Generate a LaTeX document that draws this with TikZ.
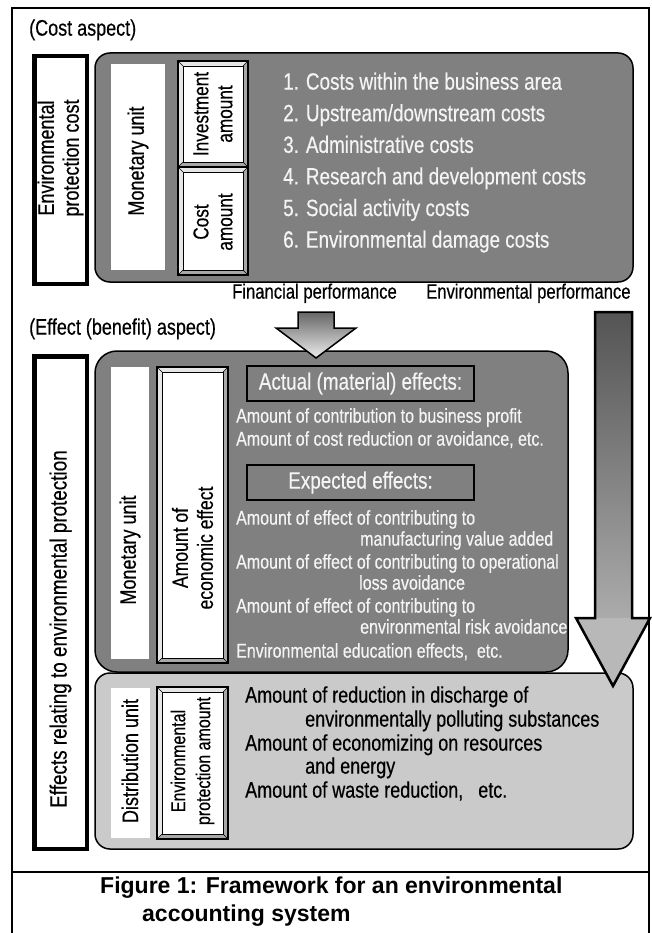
\documentclass[tikz,border=0pt]{standalone}
\usepackage{fontspec}
\setmainfont{Liberation Sans}[FakeStretch=0.8, FakeBold=0.4]
\newfontfamily\capfont{Liberation Sans}
\usetikzlibrary{calc}
\definecolor{darkbox}{HTML}{808080}
\definecolor{lightbox}{HTML}{CACACA}
\definecolor{paletext}{HTML}{F4F4F4}
\definecolor{bevlt}{HTML}{E6E6E6}
\definecolor{bevdk}{HTML}{A8A8A8}
\newcommand{\bevbox}[4]{%
  \fill[bevlt] (#1,#2) rectangle (#3,#4);
  \fill[bevdk] (#3,#2) -- (#3,#4) -- (#1,#4) -- ({#1+5},{#4-5}) -- ({#3-5},{#4-5}) -- ({#3-5},{#2+5}) -- cycle;
  \draw[line width=0.6pt] (#1,#2) -- ({#1+5},{#2+5}) (#3,#2) -- ({#3-5},{#2+5}) (#1,#4) -- ({#1+5},{#4-5}) (#3,#4) -- ({#3-5},{#4-5});
  \draw[fill=white, line width=0.9pt] ({#1+5},{#2+5}) rectangle ({#3-5},{#4-5});
  \draw[line width=1.2pt] (#1,#2) rectangle (#3,#4);
}
\tikzset{
  lbl/.style={inner sep=0pt, anchor=mid west, font=\fontsize{22.5}{26}\selectfont},
  big/.style={inner sep=0pt, anchor=mid west, font=\fontsize{23.6}{27}\selectfont, text=paletext},
  amt/.style={inner sep=0pt, anchor=mid west, font=\fontsize{20}{24}\selectfont, text=paletext},
  btm/.style={inner sep=0pt, anchor=mid west, font=\fontsize{22.5}{26}\selectfont},
  vert/.style={inner sep=0pt, rotate=90, align=center, font=\fontsize{22.5}{25}\selectfont},
  thickbox/.style={draw, line width=4.5pt, fill=white},
  hdr/.style={draw, line width=1.2pt, fill=darkbox, text=paletext, font=\fontsize{23.6}{27}\selectfont},
}
\begin{document}
\begin{tikzpicture}[x=1pt,y=-1pt]
\useasboundingbox (0,0) rectangle (652,933);
% outer frame
\draw[line width=1.2pt] (12,8) rectangle (649,945);
\draw[line width=1.2pt] (12,872) -- (649,872);

% ---------- cost aspect
\node[lbl] (costasp) at (29,33) {(Cost aspect)};
\draw[thickbox] (34.25,56.25) rectangle (86.75,283.75);
\node[vert] (epc) at (60.5,158) {Environmental\\protection cost};

\draw[fill=darkbox, line width=1.5pt, rounded corners=15pt] (95,53) rectangle (633,282);
\fill[white] (111,64) rectangle (165,270);
\node[vert] (mu1) at (138,161) {Monetary unit};
\bevbox{178}{61}{248}{167}
\bevbox{178}{167}{248}{275}
\node[vert, font=\fontsize{21.5}{24}\selectfont] (inv) at (213,114) {Investment\\amount};
\node[vert, font=\fontsize{21.5}{24}\selectfont] (cam) at (213,222) {Cost\\amount};

\node[big] (c1) at (283,87) {1. Costs within the business area};
\node[big] (c2) at (283,118.6) {2. Upstream/downstream costs};
\node[big] (c3) at (283,150.2) {3. Administrative costs};
\node[big] (c4) at (283,181.8) {4. Research and development costs};
\node[big] (c5) at (283,213.4) {5. Social activity costs};
\node[big] (c6) at (283,245) {6. Environmental damage costs};

\node[lbl, font=\fontsize{20.8}{24}\selectfont] (finp) at (232,296) {Financial performance};
\node[lbl, font=\fontsize{20.8}{24}\selectfont] (envp) at (426,296) {Environmental performance};

% ---------- effect aspect
\node[lbl] (effasp) at (29,332) {(Effect (benefit) aspect)};
\draw[thickbox] (34.25,356.25) rectangle (86.75,848.75);
\node[vert, font=\fontsize{23.6}{27}\selectfont] (erp) at (60.5,629) {Effects relating to environmental protection};

% middle box
\draw[fill=darkbox, line width=1.5pt, rounded corners=22pt] (95,351) rectangle (568,672);
\fill[white] (111,367) rectangle (149,659);
\node[vert] (mu2) at (130,550) {Monetary unit};
\bevbox{157}{367}{228}{663}
\node[vert, font=\fontsize{22}{25}\selectfont] (aee) at (192.5,548) {Amount of\\economic effect};

\node[hdr, minimum width=227pt, minimum height=35pt] (act) at (360.5,383.5) {Actual (material) effects:};
\node[amt] (a1) at (236,420) {Amount of contribution to business profit};
\node[amt] (a2) at (236,443) {Amount of cost reduction or avoidance, etc.};
\node[hdr, minimum width=227pt, minimum height=35pt] (exp) at (360.5,482.5) {Expected effects:};
\node[amt] (e1) at (236,522) {Amount of effect of contributing to};
\node[amt] (e1b) at (360,543) {manufacturing value added};
\node[amt] (e2) at (236,566) {Amount of effect of contributing to operational};
\node[amt] (e2b) at (359,587) {loss avoidance};
\node[amt] (e3) at (236,610) {Amount of effect of contributing to};
\node[amt] (e3b) at (360,631) {environmental risk avoidance};
\node[amt] (e4) at (236,655) {Environmental education effects,\ \ etc.};

% bottom box
\draw[fill=lightbox, line width=1.5pt, rounded corners=15pt] (95,673) rectangle (633,849);
\fill[white] (111,688) rectangle (150,838);
\node[vert] (du) at (130,761) {Distribution unit};
\bevbox{157}{687}{228}{839}
\node[vert, font=\fontsize{20}{25}\selectfont] (epa) at (192.5,761) {Environmental\\protection amount};
\node[btm] (b1) at (245,700) {Amount of reduction in discharge of};
\node[btm] (b1b) at (305,724) {environmentally polluting substances};
\node[btm] (b2) at (245,748) {Amount of economizing on resources};
\node[btm] (b2b) at (305,771) {and energy};
\node[btm] (b3) at (245,795) {Amount of waste reduction,\ \ \ etc.};

% ---------- arrows
\shade[top color=black!60, bottom color=black!7]
  (298,312) -- (334,312) -- (334,328) -- (356,328) -- (316,358) -- (276,328) -- (298,328) -- cycle;
\draw[line width=1.5pt, line join=miter]
  (298,312) -- (334,312) -- (334,328) -- (356,328) -- (316,358) -- (276,328) -- (298,328) -- cycle;

\shade[top color=black!67, bottom color=black!33] (595,312) rectangle (632,618);
\fill[black!28] (576,618) -- (650,618) -- (613,686) -- cycle;
\draw[line width=2.5pt, line join=miter]
  (595,312) -- (632,312) -- (632,618) -- (650,618) -- (613,686) -- (576,618) -- (595,618) -- cycle;

% caption
\node[inner sep=0pt, anchor=mid west, font=\capfont\bfseries\fontsize{23}{27}\selectfont] (cap1) at (100,891) {Figure 1: Framework for an environmental};
\node[inner sep=0pt, anchor=mid west, font=\capfont\bfseries\fontsize{23}{27}\selectfont] (cap2) at (142,919) {accounting system};
\end{tikzpicture}
\end{document}
